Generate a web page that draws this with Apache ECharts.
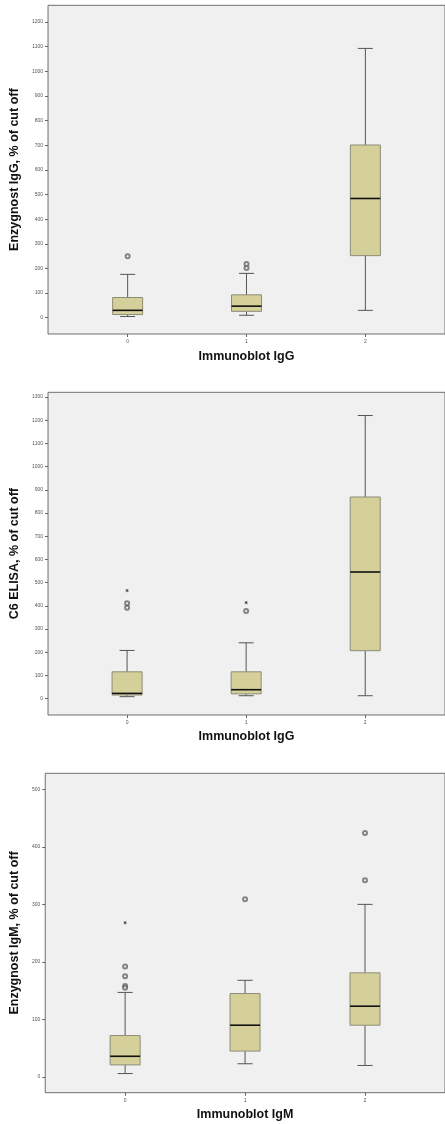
<!DOCTYPE html>
<html><head><meta charset="utf-8">
<script src="https://cdn.jsdelivr.net/npm/echarts@6/dist/echarts.min.js"></script>
<style>html,body{margin:0;padding:0;background:#fff}#c{width:445px;height:1124px}</style>
</head><body><div id="c"></div>
<script>
// ---------- data ----------
const categories = ['0', '1', '2'];

// Panel 1
const p1YTitle = 'Enzygnost IgG, % of cut off';
const p1XTitle = 'Immunoblot IgG';
const p1YTicks = [0, 100, 200, 300, 400, 500, 600, 700, 800, 900, 1000, 1100, 1200];
// [min, Q1, median, Q3, max] per category
const p1Boxes = [[5, 13, 30, 82, 176], [10, 26, 47, 93, 180], [30, 252, 484, 701, 1093]];
const p1Circles = [[0, 250], [1, 202], [1, 218]];
const p1Stars = [];

// Panel 2
const p2YTitle = 'C6 ELISA, % of cut off';
const p2XTitle = 'Immunoblot IgG';
const p2YTicks = [0, 100, 200, 300, 400, 500, 600, 700, 800, 900, 1000, 1100, 1200, 1300];
const p2Boxes = [[9, 16, 23, 116, 208], [13, 21, 39, 116, 241], [13, 207, 546, 869, 1220]];
const p2Circles = [[0, 411], [0, 392], [1, 378]];
const p2Stars = [[0, 466], [1, 414]];

// Panel 3
const p3YTitle = 'Enzygnost IgM, % of cut off';
const p3XTitle = 'Immunoblot IgM';
const p3YTicks = [0, 100, 200, 300, 400, 500];
const p3Boxes = [[6, 21, 36, 72, 147], [23, 45, 90, 145, 168], [20, 90, 123, 181, 300]];
const p3Circles = [[0, 192], [0, 175], [0, 158], [0, 155], [1, 309], [2, 424], [2, 342]];
const p3Stars = [[0, 268]];

// ---------- layout ----------
const FONT = '"Liberation Sans", Arial, sans-serif';
const panels = [
  {yTitle: p1YTitle, xTitle: p1XTitle, ticks: p1YTicks, boxes: p1Boxes, circles: p1Circles, stars: p1Stars,
   grid: {left: 45.7, top: 5.3, width: 403.5, height: 328.7}, x: [-0.67, 2.67], y: [-66, 1268], yGap: 26, xGap: 16},
  {yTitle: p2YTitle, xTitle: p2XTitle, ticks: p2YTicks, boxes: p2Boxes, circles: p2Circles, stars: p2Stars,
   grid: {left: 42.3, top: 392.3, width: 406.4, height: 322.7}, x: [-0.664, 2.67], y: [-70, 1320], yGap: 21, xGap: 15},
  {yTitle: p3YTitle, xTitle: p3XTitle, ticks: p3YTicks, boxes: p3Boxes, circles: p3Circles, stars: p3Stars,
   grid: {left: 39.3, top: 773.3, width: 407, height: 319.4}, x: [-0.666, 2.667], y: [-27.3, 527.8], yGap: 17, xGap: 15}
];

const BOX_W = 30, CAP_W = 15;
function renderBox(params, api) {
  const x = api.value(0);
  const v = [1, 2, 3, 4, 5].map(i => api.coord([x, api.value(i)]));
  const cx = v[0][0];
  const pMin = v[0][1], pQ1 = v[1][1], pMed = v[2][1], pQ3 = v[3][1], pMax = v[4][1];
  const wStyle = {stroke: '#555', lineWidth: 1, fill: null};
  return {
    type: 'group',
    children: [
      {type: 'line', shape: {x1: cx, y1: pQ3, x2: cx, y2: pMax}, style: wStyle},
      {type: 'line', shape: {x1: cx, y1: pQ1, x2: cx, y2: pMin}, style: wStyle},
      {type: 'line', shape: {x1: cx - CAP_W / 2, y1: pMax, x2: cx + CAP_W / 2, y2: pMax}, style: wStyle},
      {type: 'line', shape: {x1: cx - CAP_W / 2, y1: pMin, x2: cx + CAP_W / 2, y2: pMin}, style: wStyle},
      {type: 'rect', shape: {x: cx - BOX_W / 2, y: pQ3, width: BOX_W, height: pQ1 - pQ3},
       style: {fill: '#d5d09a', stroke: '#8d8b78', lineWidth: 1}},
      {type: 'line', shape: {x1: cx - BOX_W / 2, y1: pMed, x2: cx + BOX_W / 2, y2: pMed},
       style: {stroke: '#111', lineWidth: 1.6}}
    ]
  };
}
function renderStar(params, api) {
  const p = api.coord([api.value(0), api.value(1)]);
  const r = 1.6, st = {stroke: '#333', lineWidth: 0.8};
  return {type: 'group', children: [
    {type: 'line', shape: {x1: p[0], y1: p[1] - r, x2: p[0], y2: p[1] + r}, style: st},
    {type: 'line', shape: {x1: p[0] - r * 0.87, y1: p[1] - r * 0.5, x2: p[0] + r * 0.87, y2: p[1] + r * 0.5}, style: st},
    {type: 'line', shape: {x1: p[0] - r * 0.87, y1: p[1] + r * 0.5, x2: p[0] + r * 0.87, y2: p[1] - r * 0.5}, style: st}
  ]};
}

const option = {animation: false, backgroundColor: '#fff', grid: [], xAxis: [], yAxis: [], series: []};
panels.forEach((p, i) => {
  option.grid.push(Object.assign({show: true, backgroundColor: '#f0f0f0', borderColor: '#6e6e6e', borderWidth: 1}, p.grid));
  option.xAxis.push({
    type: 'value', gridIndex: i, min: p.x[0], max: p.x[1], position: 'bottom',
    name: p.xTitle, nameLocation: 'middle', nameGap: p.xGap,
    nameTextStyle: {fontFamily: FONT, fontSize: 12.5, fontWeight: 'bold', color: '#111'},
    axisLine: {show: false, onZero: false}, splitLine: {show: false},
    axisTick: {show: true, length: 3, customValues: [0, 1, 2], lineStyle: {color: '#666'}},
    axisLabel: {show: true, customValues: [0, 1, 2], formatter: v => categories[Math.round(v)],
      fontFamily: FONT, fontSize: 5, color: '#555', margin: 5}
  });
  option.yAxis.push({
    type: 'value', gridIndex: i, min: p.y[0], max: p.y[1], position: 'left',
    name: p.yTitle, nameLocation: 'middle', nameGap: p.yGap, nameRotate: 90,
    nameTextStyle: {fontFamily: FONT, fontSize: 12.5, fontWeight: 'bold', color: '#111'},
    axisLine: {show: false, onZero: false}, splitLine: {show: false},
    axisTick: {show: true, length: 3, customValues: p.ticks, lineStyle: {color: '#666'}},
    axisLabel: {show: true, customValues: p.ticks, formatter: v => String(v),
      fontFamily: FONT, fontSize: 5, color: '#555', margin: 5}
  });
  option.series.push({
    type: 'custom', xAxisIndex: i, yAxisIndex: i, renderItem: renderBox,
    encode: {x: 0, y: [1, 2, 3, 4, 5]},
    data: p.boxes.map((b, k) => [k].concat(b)), clip: false
  });
  option.series.push({
    type: 'scatter', xAxisIndex: i, yAxisIndex: i, symbol: 'emptyCircle', symbolSize: 4,
    itemStyle: {color: '#666', borderColor: '#666', borderWidth: 0.9},
    data: p.circles
  });
  option.series.push({
    type: 'custom', xAxisIndex: i, yAxisIndex: i, renderItem: renderStar,
    encode: {x: 0, y: 1}, data: p.stars
  });
});

const chart = echarts.init(document.getElementById('c'), null, {renderer: 'canvas'});
chart.setOption(option);
</script></body></html>
